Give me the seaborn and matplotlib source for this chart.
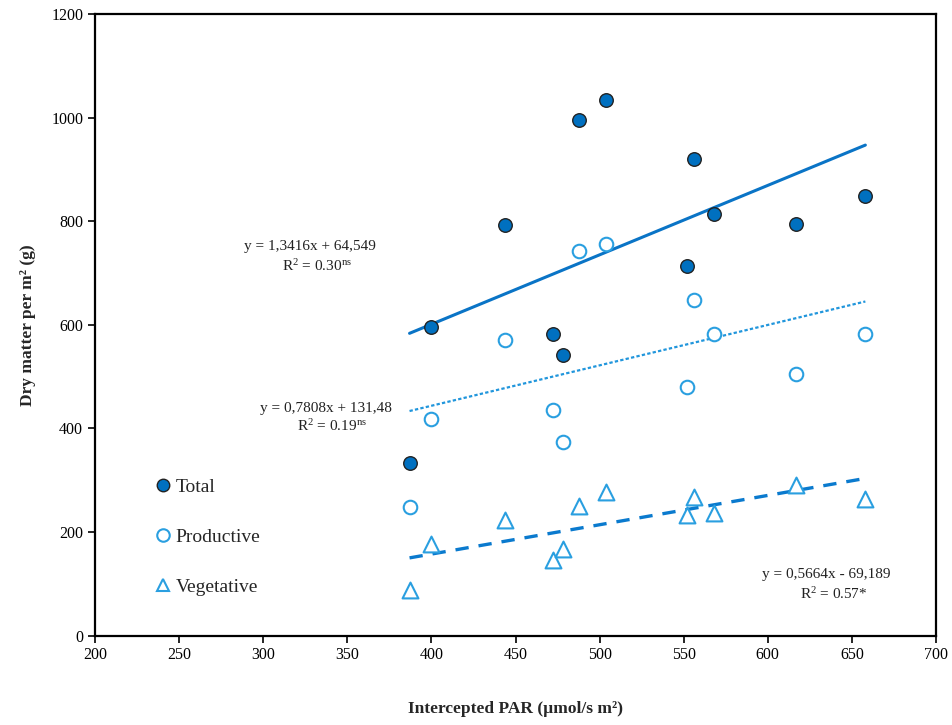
import numpy as np
import pandas as pd
import matplotlib
matplotlib.use("Agg")
import matplotlib.pyplot as plt
import seaborn as sns
from matplotlib.lines import Line2D

# ---- data ----
par = [387, 400, 444, 472, 478, 488, 504, 552, 556, 568, 617, 658]
total = [334, 596, 793, 582, 541, 996, 1035, 713, 920, 815, 795, 849]
productive = [248, 418, 570, 435, 373, 743, 756, 481, 648, 583, 505, 583]
vegetative = [87, 177, 224, 146, 168, 250, 278, 232, 268, 236, 291, 264]

fit_slopes = [1.3416, 0.7808, 0.5664]
fit_intercepts = [64.549, 131.48, -69.189]
fit_labels = ["y = 1,3416x + 64,549", "y = 0,7808x + 131,48", "y = 0,5664x - 69,189"]
r2_labels = ["R$^2$ = 0.30$^{\\rm ns}$", "R$^2$ = 0.19$^{\\rm ns}$", "R$^2$ = 0.57*"]
series_names = ["Total", "Productive", "Vegetative"]

x_ticks = [200, 250, 300, 350, 400, 450, 500, 550, 600, 650, 700]
y_ticks = [0, 200, 400, 600, 800, 1000, 1200]

sns.set_theme(style="white")
plt.rcParams['font.family'] = ['Liberation Serif', 'DejaVu Serif']
plt.rcParams['mathtext.fontset'] = 'custom'
plt.rcParams['mathtext.rm'] = 'Liberation Serif'
plt.rcParams['mathtext.it'] = 'Liberation Serif:italic'

fig = plt.figure(figsize=(9.52, 7.25), dpi=100)
ax = fig.add_axes([0.0998, 0.1234, 0.8834, 0.8569])

df = pd.DataFrame({"par": par, "Total": total, "Productive": productive, "Vegetative": vegetative})

dark = "#0070C0"
light = "#2A9FE0"

# regression lines from the published equations
xr = np.array([min(par), max(par)])
line_styles = [
    dict(color="#0A74C6", lw=2.2, ls="-"),
    dict(color="#2196DC", lw=1.6, ls=(0, (1.5, 1.0))),
    dict(color="#0A7ACE", lw=2.4, ls=(0, (4, 3))),
]
for m, b, st in zip(fit_slopes, fit_intercepts, line_styles):
    ldf = pd.DataFrame({"x": xr, "y": m * xr + b})
    sns.lineplot(data=ldf, x="x", y="y", ax=ax, color=st["color"], lw=st["lw"],
                 linestyle=st["ls"], zorder=2)

sns.scatterplot(data=df, x="par", y="Total", ax=ax, marker="o", s=95,
                color=dark, edgecolor="#222222", linewidth=1.0, zorder=4)
sns.scatterplot(data=df, x="par", y="Productive", ax=ax, marker="o", s=95,
                facecolor="white", edgecolor=light, linewidth=1.5, zorder=3)
sns.scatterplot(data=df, x="par", y="Vegetative", ax=ax, marker="^", s=130,
                facecolor="white", edgecolor=light, linewidth=1.5, zorder=3)

ax.set_xlim(200, 700)
ax.set_ylim(0, 1200)
ax.set_xticks(x_ticks)
ax.set_yticks(y_ticks)
ax.tick_params(axis="both", which="both", direction="out", length=5, width=1.2,
               labelsize=11.5, colors="black", bottom=True, left=True, top=False, right=False)
for sp in ax.spines.values():
    sp.set_color("black")
    sp.set_linewidth(1.6)

ax.set_xlabel("Intercepted PAR (µmol/s m²)", fontsize=12.5, fontweight="bold", labelpad=27)
ax.set_ylabel("Dry matter per m² (g)", fontsize=12.5, fontweight="bold", labelpad=11)

# annotations
ann_pos = [(328, 752, 714), (337, 439, 405), (635, 117, 80)]
for (xc, y1, y2), fl, rl in zip(ann_pos, fit_labels, r2_labels):
    ax.text(xc, y1, fl, ha="center", va="center", fontsize=11, color="#222222")
    ax.text(xc + 4, y2, rl, ha="center", va="center", fontsize=11, color="#222222")

# legend
handles = [
    Line2D([], [], marker="o", ls="none", markersize=9, markerfacecolor=dark,
           markeredgecolor="#222222", markeredgewidth=1.0),
    Line2D([], [], marker="o", ls="none", markersize=9, markerfacecolor="white",
           markeredgecolor=light, markeredgewidth=1.5),
    Line2D([], [], marker="^", ls="none", markersize=9, markerfacecolor="white",
           markeredgecolor=light, markeredgewidth=1.5),
]
ax.legend(handles, series_names, loc="upper left", bbox_to_anchor=(0.058, 0.265),
          frameon=False, fontsize=14, labelspacing=1.65, handletextpad=0.05,
          handlelength=1.2, borderaxespad=0)

fig.savefig("out.png", dpi=100)
